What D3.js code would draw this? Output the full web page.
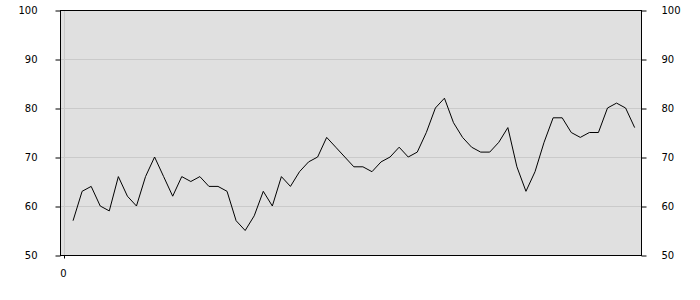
<!DOCTYPE html>
<html>
<head>
<meta charset="utf-8">
<script src="https://cdn.jsdelivr.net/npm/d3@7"></script>
<style>
  body { margin: 0; background: #ffffff; }
  text { font-family: "DejaVu Sans", Verdana, sans-serif; font-size: 10px; fill: #000; }
</style>
</head>
<body>
<div id="canvas"></div>
<script>
"use strict"

/* values, one per step starting at x = 1 */
let seriesValues = [57, 63, 64, 60, 59, 66, 62, 60, 66, 70,
                    66, 62, 66, 65, 66, 64, 64, 63, 57, 55,
                    58, 63, 60, 66, 64, 67, 69, 70, 74, 72,
                    70, 68, 68, 67, 69, 70, 72, 70, 71, 75,
                    80, 82, 77, 74, 72, 71, 71, 73, 76, 68,
                    63, 67, 73, 78, 78, 75, 74, 75, 75, 80,
                    81, 80, 76];
let yTickValues = [50, 60, 70, 80, 90, 100];
let xTickValues = [0];

let drawing = d3.select("#canvas")
    .append("svg")
    .attr("width", 700)
    .attr("height", 300);

/* plot box */
let plotLeft = 60, plotRight = 641, plotTop = 10, plotBottom = 255;

let xScale = d3.scaleLinear()
    .domain([0, 63.7])
    .range([64, plotRight]);

let yScale = d3.scaleLinear()
    .domain([50, 100])
    .range([plotBottom, plotTop]);

let plotBackground = drawing.append("rect")
    .attr("x", plotLeft)
    .attr("y", plotTop)
    .attr("width", plotRight - plotLeft)
    .attr("height", plotBottom - plotTop)
    .attr("fill", "#e0e0e0");

// horizontal grid
let gridLines = drawing.append("g")
    .selectAll("line")
    .data(yTickValues.slice(1, -1))
    .join("line")
    .attr("x1", plotLeft)
    .attr("x2", plotRight)
    .attr("y1", d => yScale(d) + 0.5)
    .attr("y2", d => yScale(d) + 0.5)
    .attr("stroke", "#cacaca")
    .attr("stroke-width", 1);

// vertical grid at x = 0
let xGridLines = drawing.append("g")
    .selectAll("line")
    .data(xTickValues)
    .join("line")
    .attr("x1", d => xScale(d) + 0.5)
    .attr("x2", d => xScale(d) + 0.5)
    .attr("y1", plotTop)
    .attr("y2", plotBottom)
    .attr("stroke", "#cacaca")
    .attr("stroke-width", 1);

let valueLine = d3.line()
    .x((d, i) => xScale(i + 1))
    .y(d => yScale(d));

let seriesPath = drawing.append("path")
    .datum(seriesValues)
    .attr("d", valueLine)
    .attr("fill", "none")
    .attr("stroke", "#000")
    .attr("stroke-width", 1);

// frame
let frame = drawing.append("rect")
    .attr("x", plotLeft + 0.5)
    .attr("y", plotTop + 0.5)
    .attr("width", plotRight - plotLeft)
    .attr("height", plotBottom - plotTop)
    .attr("fill", "none")
    .attr("stroke", "#000")
    .attr("stroke-width", 1);

let leftAxis = drawing.append("g")
    .attr("transform", "translate(" + (plotLeft + 0.5) + ",0.5)")
    .call(d3.axisLeft(yScale).tickValues(yTickValues).tickSize(5).tickPadding(18));

let rightAxis = drawing.append("g")
    .attr("transform", "translate(" + (plotRight + 0.5) + ",0.5)")
    .call(d3.axisRight(yScale).tickValues(yTickValues).tickSize(5).tickPadding(15));

let bottomAxis = drawing.append("g")
    .attr("transform", "translate(0," + (plotBottom + 0.5) + ")")
    .call(d3.axisBottom(xScale).tickValues(xTickValues).tickSize(3).tickPadding(11));

[leftAxis, rightAxis, bottomAxis].forEach(ax => {
    ax.select(".domain").remove();
    ax.selectAll(".tick line").attr("stroke", "#000");
    ax.selectAll(".tick text")
        .attr("font-family", null)
        .attr("font-size", null);
});
bottomAxis.selectAll(".tick text").attr("dx", "-0.1em");
</script>
</body>
</html>
